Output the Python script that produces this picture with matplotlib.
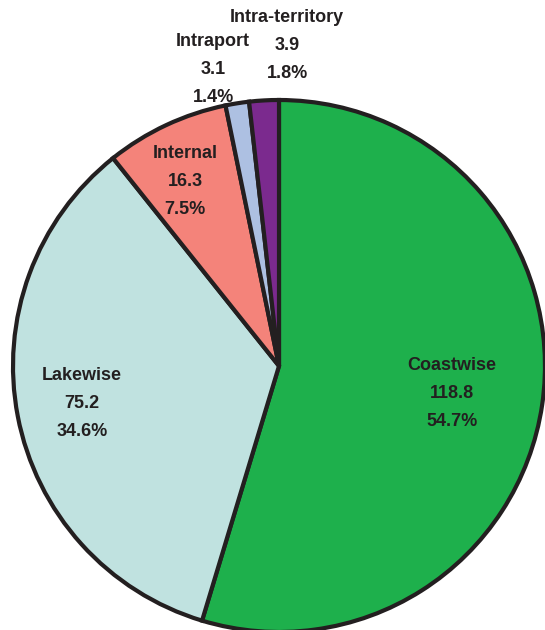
import matplotlib.pyplot as plt

# tonnage by traffic type
labels = ["Coastwise", "Lakewise", "Internal", "Intraport", "Intra-territory"]
values = [118.8, 75.2, 16.3, 3.1, 3.9]
colors = ["#1eb04c", "#c0e2e0", "#f4837a", "#adc0e2", "#7b2a8e"]

# label anchor points (pixels, top-left origin)
label_pos = [(452, 365), (82, 375), (185, 153), (213, 42), (287, 18)]

W, H = 545, 630
fig = plt.figure(figsize=(W / 100, H / 100), dpi=100)
ax = fig.add_axes([0, 0, 1, 1])
ax.set_xlim(0, W)
ax.set_ylim(0, H)
ax.axis("off")

ax.pie(values, colors=colors, startangle=90, counterclock=False,
       center=(279, H - 366), radius=266, frame=True,
       wedgeprops=dict(edgecolor="#231f20", linewidth=3))
ax.set_xlim(0, W)
ax.set_ylim(0, H)
ax.set_aspect("equal")
ax.axis("off")

total = sum(values)
txt = dict(ha="center", va="center", fontsize=13, fontweight="bold",
           color="#231f20", family="Liberation Sans")
for lab, v, (x, y) in zip(labels, values, label_pos):
    ax.text(x, H - y, lab, **txt)
    ax.text(x, H - y - 28, f"{v:.1f}", **txt)
    ax.text(x, H - y - 56, f"{v / total * 100:.1f}%", **txt)

fig.savefig("out.png", dpi=100)
